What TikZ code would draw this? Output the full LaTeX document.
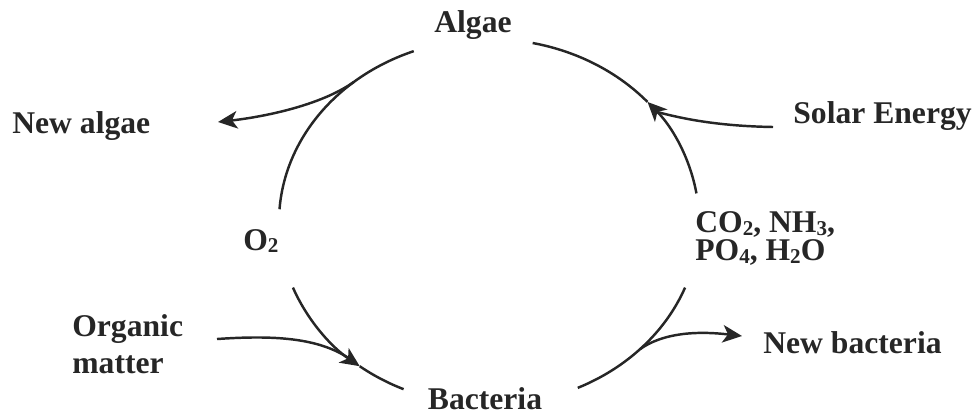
\documentclass[tikz,border=0pt]{standalone}
\usepackage{fontspec}
\setmainfont{Liberation Serif}
\usetikzlibrary{arrows.meta, calc}
\newcommand{\chsub}[1]{\raisebox{-0.2ex}{\fontsize{12}{12}\selectfont#1}}
\newcommand{\tightlines}{\lineskiplimit=-20pt\relax}

\begin{document}
\begin{tikzpicture}[
    x=0.02cm, y=-0.02cm,
    label/.style={font=\fontsize{18}{21}\selectfont\bfseries, text=black!85, inner sep=0pt},
    cycle/.style={line width=1.4pt, draw=black!85},
    arrow/.style={cycle, -{Stealth[length=11pt, width=10pt, inset=3pt]}},
    ring/.style={x radius=210, y radius=183}
  ]
    \useasboundingbox (0,0) rectangle (979,414);

    % Points on the cycle
    \coordinate (ctr) at (489,222);
    \foreach \n/\t in {ta/249, tb/184, ra/351, rm/319, rs/323, rb/282,
                       la/159, lm/128, ls/132, lb/114, ba/21, bb/65,
                       nl/230, nb/44}
      \coordinate (\n) at ($(ctr)+(\t:210 and 183)$);

    % Labels
    \node[label, anchor=base] (algae) at (473,32) {Algae};
    \node[label, anchor=base] (bacteria) at (485,409) {Bacteria};
    \node[label, anchor=base west] (newalgae) at (12,133) {New algae};
    \node[label, anchor=base west] (solar) at (793,123) {Solar Energy};
    \node[label, anchor=base west] (oxygen) at (243,250) {O\chsub{2}};
    \node[label, anchor=north west, align=left,
          font=\fontsize{18}{16.2}\selectfont\bfseries\tightlines] (nutrients) at (695,211)
      {CO\chsub{2}, NH\chsub{3},\\PO\chsub{4}, H\chsub{2}O};
    \node[label, anchor=north west, align=left] (organic) at (72,314) {Organic\\matter};
    \node[label, anchor=base west] (newbact) at (763,353) {New bacteria};

    % Free ends
    \coordinate (nltip) at (218,122);
    \coordinate (sstart) at (773,127);
    \coordinate (ostart) at (217,339);
    \coordinate (nbtip) at (742,336);

    % Cycle
    \draw[cycle] (ta) arc[start angle=249, end angle=184, ring];
    \draw[arrow] (la) arc[start angle=159, end angle=128, ring];
    \draw[cycle] (lm) arc[start angle=128, end angle=114, ring];
    \draw[cycle] (bb) arc[start angle=65, end angle=21, ring];
    \draw[arrow] (ra) arc[start angle=351, end angle=319, ring];
    \draw[cycle] (rm) arc[start angle=319, end angle=282, ring];

    % Inputs and outputs
    \draw[arrow] (nl) .. controls (320,106) and (262,117) .. (nltip);
    \draw[cycle] (sstart) .. controls (715,126) and (680,118) .. (rs);
    \draw[cycle] (ostart) .. controls (275,335) and (318,338) .. (ls);
    \draw[arrow] (nb) .. controls (660,335) and (690,330) .. (nbtip);
\end{tikzpicture}
\end{document}
